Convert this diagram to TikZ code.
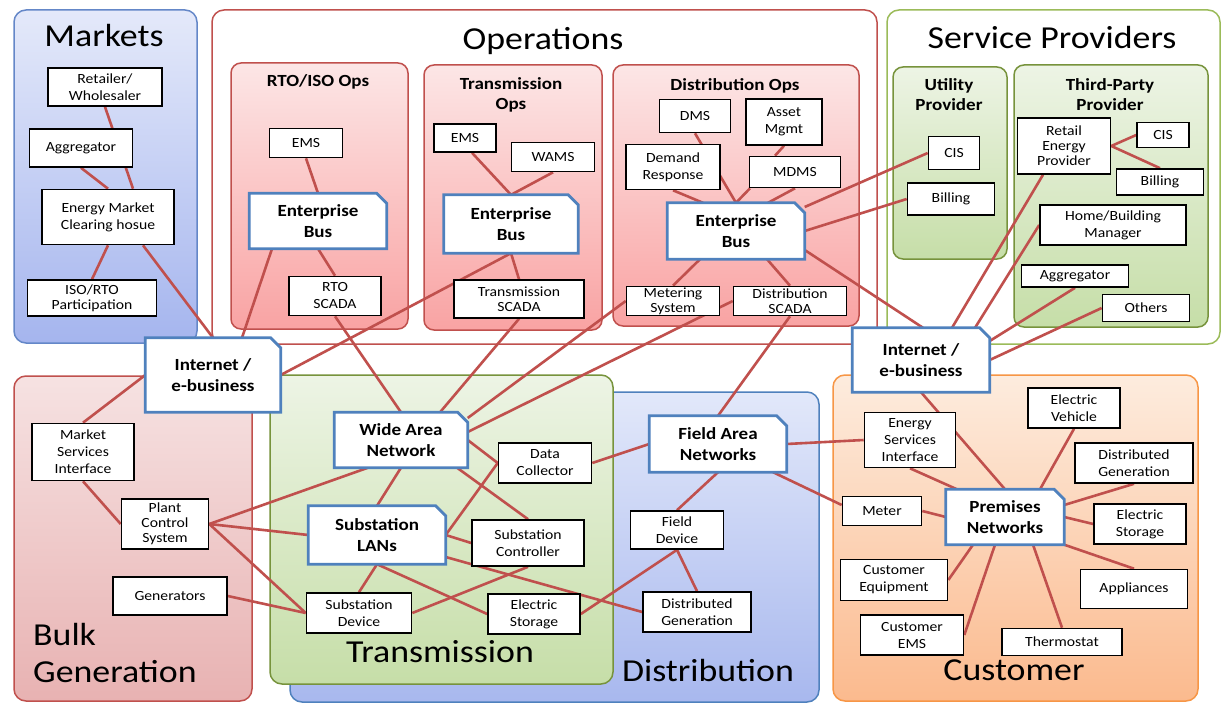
\documentclass[tikz,border=0pt]{standalone}
\usepackage{fontspec}
\setmainfont{Carlito}[FakeStretch=1.12]
\usetikzlibrary{calc}
\pgfdeclarelayer{bg}
\pgfdeclarelayer{edges}
\pgfdeclarelayer{busfill}
\pgfsetlayers{bg,edges,busfill,main}
\definecolor{lnk}{RGB}{192,80,77}
\definecolor{busblue}{RGB}{79,129,189}
\definecolor{mktbd}{RGB}{100,135,200}
\definecolor{mkttop}{RGB}{228,233,250}
\definecolor{mktbot}{RGB}{165,181,238}
\definecolor{redtop}{RGB}{252,230,230}
\definecolor{redbot}{RGB}{249,163,163}
\definecolor{redbd}{RGB}{192,80,77}
\definecolor{grntop}{RGB}{237,244,229}
\definecolor{grnbot}{RGB}{198,222,168}
\definecolor{grnbd}{RGB}{119,147,60}
\definecolor{sptbd}{RGB}{155,187,89}
\definecolor{bultop}{RGB}{246,226,226}
\definecolor{bulbot}{RGB}{232,178,178}
\definecolor{dsttop}{RGB}{226,232,250}
\definecolor{dstbot}{RGB}{168,184,238}
\definecolor{custop}{RGB}{253,236,222}
\definecolor{cusbot}{RGB}{251,186,142}
\definecolor{cusbd}{RGB}{247,150,70}
\tikzset{
  bx/.style={draw=black, fill=white, line width=1.6pt, inner sep=0pt, align=center,
    font=\fontsize{14}{17}\selectfont},
  tight/.style={font=\fontsize{14}{15}\selectfont},
  busnode/.style={inner sep=0pt, align=center, font=\fontsize{17}{21}\selectfont\bfseries},
  busbox/.style={fill=white, draw=busblue, line width=2.8pt},
  wh/.style 2 args={minimum width=#1pt, minimum height=#2pt},
  lk/.style={draw=lnk, line width=2.6pt},
  bigtitle/.style={inner sep=0pt, font=\fontsize{32}{36}\selectfont},
  subtitle/.style={inner sep=0pt, font=\fontsize{17}{20}\selectfont\bfseries},
  cont/.style={line width=1.5pt, rounded corners=12pt},
  subcont/.style={line width=1.5pt, rounded corners=10pt}
}
\begin{document}
\begin{tikzpicture}[x=1pt,y=-1pt]
\useasboundingbox (0,0) rectangle (1222,703);

% ---------- containers ----------
\begin{pgfonlayer}{bg}
\fill[white] (0,0) rectangle (1222,703);
\path[cont, draw=mktbd, top color=mkttop, bottom color=mktbot] (14,10) rectangle (197,343);
\path[cont, draw=redbd, fill=white] (212,10) rectangle (877,344);
\path[cont, draw=sptbd, fill=white] (887,10) rectangle (1220,344);
\path[subcont, draw=redbd, top color=redtop, bottom color=redbot] (231,63) rectangle (408,329);
\path[subcont, draw=redbd, top color=redtop, bottom color=redbot] (424,65) rectangle (602,330);
\path[subcont, draw=redbd, top color=redtop, bottom color=redbot] (613,65) rectangle (859,326);
\path[subcont, draw=grnbd, top color=grntop, bottom color=grnbot] (893,67) rectangle (1007,259);
\path[subcont, draw=grnbd, top color=grntop, bottom color=grnbot] (1014,65) rectangle (1208,327);
\path[cont, draw=redbd, top color=bultop, bottom color=bulbot] (14,376) rectangle (252,701);
\path[cont, draw=busblue, top color=dsttop, bottom color=dstbot] (290,392) rectangle (819,702);
\path[cont, draw=grnbd, top color=grntop, bottom color=grnbot] (270,375) rectangle (613,684);
\path[cont, draw=cusbd, top color=custop, bottom color=cusbot] (833,375) rectangle (1198,701);
\end{pgfonlayer}

% ---------- titles ----------
\node[bigtitle, anchor=base] (tmk) at (104,47) {Markets};
\node[bigtitle, anchor=base] (top) at (543,50) {Operations};
\node[bigtitle, anchor=base] (tsp) at (1052,49) {Service Providers};
\node[subtitle, anchor=base] (trto) at (318,87) {RTO/ISO Ops};
\node[subtitle, anchor=base] (ttr1) at (511,90) {Transmission};
\node[subtitle, anchor=base] (ttr2) at (511,110) {Ops};
\node[subtitle, anchor=base] (tdo) at (735,91) {Distribution Ops};
\node[subtitle, anchor=base] (tut1) at (949,91) {Utility};
\node[subtitle, anchor=base] (tut2) at (949,111) {Provider};
\node[subtitle, anchor=base] (ttp1) at (1110,91) {Third-Party};
\node[subtitle, anchor=base] (ttp2) at (1110,111) {Provider};
\node[bigtitle, anchor=base west] (tbk1) at (33,645) {Bulk};
\node[bigtitle, anchor=base west] (tbk2) at (33,682) {Generation};
\node[bigtitle, anchor=base] (ttr) at (440,662) {Transmission};
\node[bigtitle, anchor=base] (tds) at (708,681) {Distribution};
\node[bigtitle, anchor=base] (tcu) at (1014,680) {Customer};

% ---------- nodes ----------
\node[bx,wh={114}{38}] (ret) at (105,87) {Retailer/\\Wholesaler};
\node[bx,wh={103}{38}] (agg1) at (81,148) {Aggregator};
\node[bx,wh={132}{55}] (emc) at (108,217) {Energy Market\\Clearing hosue};
\node[bx,wh={129}{36},tight] (isorto) at (92,298) {ISO/RTO\\Participation};

\node[bx,wh={73}{29}] (ems1) at (306,143) {EMS};
\node[busnode,wh={137}{55}] (bus1) at (318,221) {Enterprise\\Bus};
\node[bx,wh={92}{39}] (rtoscada) at (335,296) {RTO\\SCADA};

\node[bx,wh={62}{28}] (ems2) at (465,138) {EMS};
\node[bx,wh={83}{29}] (wams) at (553,157) {WAMS};
\node[busnode,wh={134}{58}] (bus2) at (511,224) {Enterprise\\Bus};
\node[bx,wh={130}{38},tight] (tscada) at (519,299) {Transmission\\SCADA};

\node[bx,wh={71}{33}] (dms) at (695,116) {DMS};
\node[bx,wh={76}{46}] (asset) at (784,122) {Asset\\Mgmt};
\node[bx,wh={94}{45}] (dr) at (673,167) {Demand\\Response};
\node[bx,wh={91}{31}] (mdms) at (795,172) {MDMS};
\node[busnode,wh={137}{56}] (bus3) at (736,231) {Enterprise\\Bus};
\node[bx,wh={93}{29},tight] (msys) at (673,301) {Metering\\System};
\node[bx,wh={113}{29},tight] (dscada) at (790,301) {Distribution\\SCADA};

\node[bx,wh={51}{33}] (cis1) at (954,153) {CIS};
\node[bx,wh={87}{32}] (bill1) at (951,199) {Billing};

\node[bx,wh={93}{56},tight] (rep) at (1064,146) {Retail\\Energy\\Provider};
\node[bx,wh={52}{25}] (cis2) at (1163,135) {CIS};
\node[bx,wh={87}{26}] (bill2) at (1160,182) {Billing};
\node[bx,wh={146}{40}] (hbm) at (1113,225) {Home/Building\\Manager};
\node[bx,wh={107}{22}] (agg2) at (1075,276) {Aggregator};
\node[bx,wh={87}{27}] (others) at (1146,308) {Others};

\node[busnode,wh={137}{64}] (inet2) at (921,360) {Internet /\\e-business};
\node[busnode,wh={135}{74}] (inet1) at (213,375) {Internet /\\e-business};

\node[bx,wh={102}{57}] (msi) at (83,452) {Market\\Services\\Interface};
\node[bx,wh={87}{50},tight] (pcs) at (165,524) {Plant\\Control\\System};
\node[bx,wh={114}{38}] (gen) at (170,596) {Generators};

\node[busnode,wh={133}{55}] (wan) at (401,440) {Wide Area\\Network};
\node[bx,wh={93}{40}] (dc) at (545,463) {Data\\Collector};
\node[busnode,wh={137}{58}] (sublan) at (377,535) {Substation\\LANs};
\node[bx,wh={112}{46}] (subctl) at (528,543) {Substation\\Controller};
\node[bx,wh={105}{40}] (subdev) at (359,613) {Substation\\Device};
\node[bx,wh={92}{40}] (es1) at (534,614) {Electric\\Storage};

\node[busnode,wh={137}{56}] (fan) at (718,444) {Field Area\\Networks};
\node[bx,wh={93}{38}] (fdev) at (677,530) {Field\\Device};
\node[bx,wh={108}{40}] (dg1) at (697,612) {Distributed\\Generation};

\node[bx,wh={91}{55}] (esi) at (910,440) {Energy\\Services\\Interface};
\node[bx,wh={92}{40}] (ev) at (1074,408) {Electric\\Vehicle};
\node[bx,wh={118}{40}] (dg2) at (1134,463) {Distributed\\Generation};
\node[bx,wh={79}{29}] (meter) at (882,511) {Meter};
\node[busnode,wh={118}{55}] (prem) at (1005,517) {Premises\\Networks};
\node[bx,wh={92}{40}] (es2) at (1140,524) {Electric\\Storage};
\node[bx,wh={107}{41}] (ceq) at (894,580) {Customer\\Equipment};
\node[bx,wh={107}{39}] (appl) at (1134,589) {Appliances};
\node[bx,wh={103}{40}] (cems) at (912,635) {Customer\\EMS};
\node[bx,wh={120}{27}] (thermo) at (1062,642) {Thermostat};

% ---------- bus shapes ----------
\begin{pgfonlayer}{busfill}
\foreach \n in {bus1,bus2,bus3,inet1,inet2,wan,sublan,fan,prem}{
  \filldraw[busbox] (\n.south west) -- (\n.north west) -- ([shift={(-10,0)}]\n.north east)
    -- ([shift={(0,10)}]\n.north east) -- (\n.south east) -- cycle;
}
\end{pgfonlayer}

% ---------- connectors ----------
\begin{pgfonlayer}{edges}
\draw[lk] (ret.south) -- ([shift={(25,0)}]emc.north);
\draw[lk] (agg1.south) -- (emc.north);
\draw[lk] (emc.south) -- (isorto.north);
\draw[lk] ([shift={(35,0)}]emc.south) -- (inet1.north);
\draw[lk] (ems1.south) -- (bus1.north);
\draw[lk] (bus1.south) -- (rtoscada.north);
\draw[lk] ([shift={(-46,0)}]bus1.south) -- ([shift={(29,0)}]inet1.north);
\draw[lk] (rtoscada.south) -- (wan.north);
\draw[lk] ([shift={(7,0)}]ems2.south) -- (bus2.north);
\draw[lk] (wams.south) -- (bus2.north);
\draw[lk] (bus2.south) -- (tscada.north);
\draw[lk] (bus2.south) -- (inet1.east);
\draw[lk] (tscada.south) -- ([shift={(39,0)}]wan.north);
\draw[lk] (dms.south) -- (bus3.north);
\draw[lk] (asset.south) -- ([shift={(-20,0)}]mdms.north);
\draw[lk] (dr.south) -- ([shift={(-33,0)}]bus3.north);
\draw[lk] ([shift={(-45,0)}]mdms.south) -- (bus3.north);
\draw[lk] (mdms.south) -- ([shift={(32,0)}]bus3.north);
\draw[lk] ([shift={(-36,0)}]bus3.south) -- (msys.north);
\draw[lk] (msys.west) -- ([shift={(0,-22)}]wan.east);
\draw[lk] ([shift={(31,0)}]bus3.south) -- (dscada.north);
\draw[lk] (dscada.west) -- ([shift={(0,-8)}]wan.east);
\draw[lk] (dscada.south) -- (fan.north);
\draw[lk] ([shift={(0,-24)}]bus3.east) -- (cis1.west);
\draw[lk] (bus3.east) -- (bill1.west);
\draw[lk] ([shift={(0,19)}]bus3.east) -- ([shift={(2,0)}]inet2.north);
\draw[lk] (rep.east) -- (cis2.west);
\draw[lk] (rep.east) -- (bill2.north);
\draw[lk] ([shift={(-21,0)}]rep.south) -- ([shift={(31,0)}]inet2.north);
\draw[lk] (hbm.west) -- ([shift={(54,0)}]inet2.north);
\draw[lk] (agg2.south) -- ([shift={(0,-19)}]inet2.east);
\draw[lk] (others.west) -- (inet2.east);
\draw[lk] (inet2.south) -- (prem.north);
\draw[lk] (esi.south) -- ([shift={(-48,0)}]prem.north);
\draw[lk] (ev.south) -- ([shift={(35,0)}]prem.north);
\draw[lk] (dg2.south) -- ([shift={(0,-12)}]prem.east);
\draw[lk] (es2.west) -- (prem.east);
\draw[lk] (appl.north) -- (prem.south east);
\draw[lk] (thermo.north) -- ([shift={(28,0)}]prem.south);
\draw[lk] (cems.east) -- ([shift={(-10,0)}]prem.south);
\draw[lk] (ceq.east) -- ([shift={(-32,0)}]prem.south);
\draw[lk] (meter.east) -- (prem.west);
\draw[lk] ([shift={(55,0)}]fan.south) -- ([shift={(0,-6)}]meter.west);
\draw[lk] (esi.west) -- (fan.east);
\draw[lk] (fan.west) -- (dc.east);
\draw[lk] (fan.south) -- (fdev.north);
\draw[lk] (fdev.south) -- (dg1.north);
\draw[lk] (fdev.south) -- (es1.east);
\draw[lk] (inet1.west) -- (msi.north);
\draw[lk] (msi.south) -- (pcs.west);
\draw[lk] (pcs.east) -- ([shift={(-33,0)}]wan.south);
\draw[lk] (pcs.east) -- (sublan.west);
\draw[lk] (pcs.east) -- (subdev.west);
\draw[lk] (gen.east) -- (subdev.west);
\draw[lk] (wan.south) -- (sublan.north);
\draw[lk] (wan.east) -- (dc.west);
\draw[lk] ([shift={(56,0)}]wan.south) -- (subctl.north);
\draw[lk] (sublan.east) -- (dc.west);
\draw[lk] (sublan.east) -- (subctl.west);
\draw[lk] ([shift={(0,22)}]sublan.east) -- (dg1.west);
\draw[lk] (sublan.south) -- (subdev.north);
\draw[lk] (sublan.south) -- (es1.west);
\draw[lk] (subdev.east) -- (subctl.south);
\end{pgfonlayer}
\end{tikzpicture}
\end{document}
